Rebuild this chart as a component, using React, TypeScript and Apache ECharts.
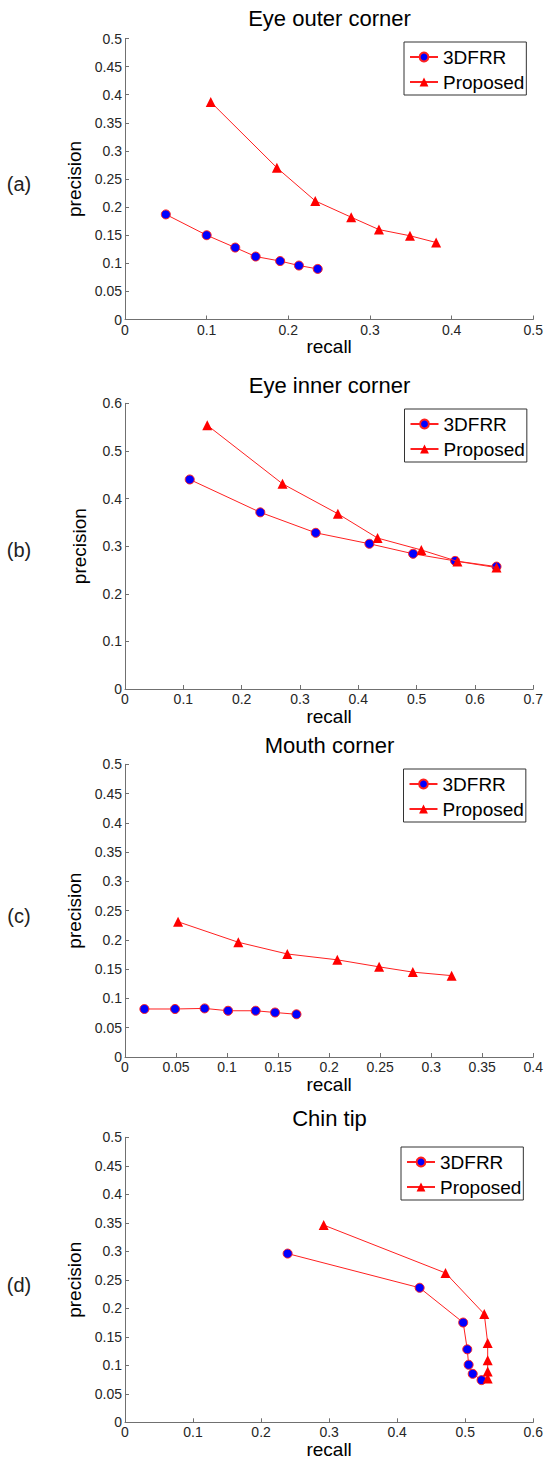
import React, { useEffect, useRef } from "react";
import * as echarts from "echarts";

// ---- Data ----
const panelLabels = ["(a)", "(b)", "(c)", "(d)"];
const panelTitles = ["Eye outer corner", "Eye inner corner", "Mouth corner", "Chin tip"];
const seriesNames = ["3DFRR", "Proposed"];

// (a) Eye outer corner
const a3dfrrRecall = [0.05, 0.1, 0.135, 0.16, 0.19, 0.213, 0.236];
const a3dfrrPrecision = [0.187, 0.15, 0.128, 0.112, 0.104, 0.096, 0.09];
const aPropRecall = [0.105, 0.186, 0.233, 0.277, 0.311, 0.349, 0.381];
const aPropPrecision = [0.387, 0.27, 0.211, 0.182, 0.16, 0.149, 0.137];

// (b) Eye inner corner
const b3dfrrRecall = [0.111, 0.232, 0.327, 0.419, 0.494, 0.566, 0.637];
const b3dfrrPrecision = [0.44, 0.371, 0.328, 0.305, 0.284, 0.269, 0.257];
const bPropRecall = [0.141, 0.27, 0.365, 0.433, 0.508, 0.57, 0.637];
const bPropPrecision = [0.554, 0.431, 0.368, 0.317, 0.292, 0.268, 0.255];

// (c) Mouth corner
const c3dfrrRecall = [0.019, 0.049, 0.078, 0.101, 0.128, 0.147, 0.168];
const c3dfrrPrecision = [0.082, 0.082, 0.083, 0.079, 0.079, 0.076, 0.073];
const cPropRecall = [0.052, 0.111, 0.159, 0.208, 0.249, 0.282, 0.32];
const cPropPrecision = [0.231, 0.196, 0.176, 0.166, 0.154, 0.145, 0.139];

// (d) Chin tip
const d3dfrrRecall = [0.239, 0.433, 0.497, 0.503, 0.505, 0.511, 0.524];
const d3dfrrPrecision = [0.296, 0.236, 0.175, 0.128, 0.101, 0.085, 0.074];
const dPropRecall = [0.292, 0.471, 0.528, 0.533, 0.533, 0.533, 0.533];
const dPropPrecision = [0.346, 0.262, 0.19, 0.139, 0.109, 0.089, 0.077];

// Axis ranges
const xMax = [0.5, 0.7, 0.4, 0.6];
const xInterval = [0.1, 0.1, 0.05, 0.1];
const yMax = [0.5, 0.6, 0.5, 0.5];
const yInterval = [0.05, 0.1, 0.05, 0.05];

const FONT = "'Liberation Sans', Arial, Helvetica, sans-serif";

const zip = (xs: number[], ys: number[]) => xs.map((x, i) => [x, ys[i]]);

const panels = [
  { r: [a3dfrrRecall, aPropRecall], p: [a3dfrrPrecision, aPropPrecision] },
  { r: [b3dfrrRecall, bPropRecall], p: [b3dfrrPrecision, bPropPrecision] },
  { r: [c3dfrrRecall, cPropRecall], p: [c3dfrrPrecision, cPropPrecision] },
  { r: [d3dfrrRecall, dPropRecall], p: [d3dfrrPrecision, dPropPrecision] },
];

// Layout (pixels)
const gridLeft = 125;
const gridWidth = 409;
const gridTops = [38.5, 403.3, 764.3, 1137.3];
const gridBottoms = [319.5, 689, 1057, 1422.3];
const titleY = [18, 385, 745, 1118];
const panelLabelY = [184, 550, 916, 1285];
const legendTops = [42, 409, 769, 1147];
const legendLefts = [404, 404.5, 403.5, 401];

export default function App() {
  const ref = useRef<HTMLDivElement>(null);

  useEffect(() => {
    if (!ref.current) return;
    const chart = echarts.init(ref.current, undefined, { renderer: "svg" });

    const axisColor = "#707070";
    const labelColor = "#262626";

    const grid = panels.map((_, i) => ({
      left: gridLeft,
      top: gridTops[i],
      width: gridWidth,
      height: gridBottoms[i] - gridTops[i],
    }));

    const xAxis = panels.map((_, i) => ({
      type: "value",
      gridIndex: i,
      min: 0,
      max: xMax[i],
      interval: xInterval[i],
      name: "recall",
      nameLocation: "middle",
      nameGap: 17,
      nameTextStyle: { fontFamily: FONT, fontSize: 19, color: "#000" },
      axisLine: { show: true, onZero: false, lineStyle: { color: axisColor, width: 1 } },
      axisTick: { show: true, inside: true, length: 4, lineStyle: { color: axisColor } },
      axisLabel: { fontFamily: FONT, fontSize: 14, color: labelColor, margin: 3, showMinLabel: true, showMaxLabel: true },
      splitLine: { show: false },
    }));

    const yAxis = panels.map((_, i) => ({
      type: "value",
      gridIndex: i,
      min: 0,
      max: yMax[i],
      interval: yInterval[i],
      name: "precision",
      nameLocation: "middle",
      nameGap: 36,
      nameTextStyle: { fontFamily: FONT, fontSize: 19, color: "#000" },
      axisLine: { show: true, onZero: false, lineStyle: { color: axisColor, width: 1 } },
      axisTick: { show: true, inside: true, length: 4, lineStyle: { color: axisColor } },
      axisLabel: { fontFamily: FONT, fontSize: 14, color: labelColor, margin: 3 },
      splitLine: { show: false },
    }));

    const series: any[] = [];
    panels.forEach((pn, i) => {
      series.push({
        name: seriesNames[0],
        type: "line",
        xAxisIndex: i,
        yAxisIndex: i,
        data: zip(pn.r[0], pn.p[0]),
        symbol: "circle",
        symbolSize: 9,
        lineStyle: { color: "#ff2020", width: 1 },
        itemStyle: { color: "#0000ff", borderColor: "#ff2020", borderWidth: 1 },
        z: 3,
      });
      series.push({
        name: seriesNames[1],
        type: "line",
        xAxisIndex: i,
        yAxisIndex: i,
        data: zip(pn.r[1], pn.p[1]),
        symbol: "triangle",
        symbolSize: 10,
        lineStyle: { color: "#ff2020", width: 1 },
        itemStyle: { color: "#ff0000", borderWidth: 0 },
        z: 4,
      });
    });

    const legend = panels.map((_, i) => ({
      data: seriesNames,
      orient: "vertical",
      left: legendLefts[i],
      top: legendTops[i],
      padding: [5, 2, 3, 5],
      itemGap: 5,
      itemWidth: 28,
      itemHeight: 11,
      backgroundColor: "#ffffff",
      borderColor: "#333333",
      borderWidth: 1,
      borderRadius: 0,
      selectedMode: false,
      textStyle: { fontFamily: FONT, fontSize: 19, color: "#000", lineHeight: 20 },
    }));

    const graphic: any[] = [];
    panels.forEach((_, i) => {
      graphic.push({
        type: "text",
        x: gridLeft + gridWidth / 2,
        y: titleY[i],
        style: {
          text: panelTitles[i],
          font: `22px ${FONT}`,
          fill: "#000",
          align: "center",
          verticalAlign: "middle",
          textAlign: "center",
          textVerticalAlign: "middle",
        },
      });
      graphic.push({
        type: "text",
        x: 19,
        y: panelLabelY[i],
        style: {
          text: panelLabels[i],
          font: `20px ${FONT}`,
          fill: "#222",
          align: "center",
          verticalAlign: "middle",
          textAlign: "center",
          textVerticalAlign: "middle",
        },
      });
    });

    chart.setOption({
      animation: false,
      backgroundColor: "#ffffff",
      textStyle: { fontFamily: FONT },
      grid,
      xAxis,
      yAxis,
      legend,
      series,
      graphic,
    });

    return () => chart.dispose();
  }, []);

  return (
    <div
      ref={ref}
      style={{ position: "absolute", left: 0, top: 0, width: 546, height: 1461, background: "#fff" }}
    />
  );
}
